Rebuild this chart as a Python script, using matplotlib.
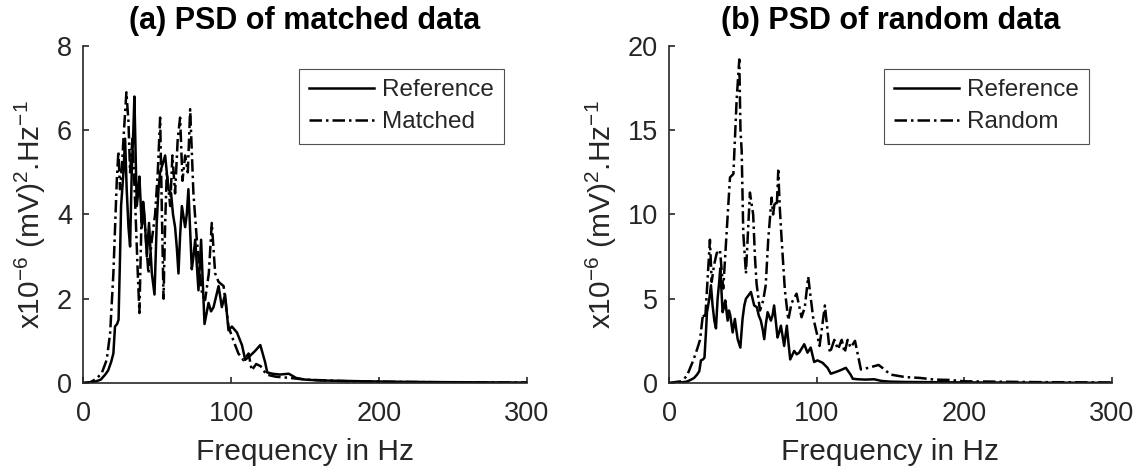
import matplotlib
matplotlib.use("Agg")
import matplotlib.pyplot as plt

# ---- data (frequency in Hz, PSD in 1e-6 (mV)^2/Hz) ----
ref_f = [0, 5, 8, 12, 15, 17, 19, 20.5, 21.6, 23, 24, 25, 25.7, 27.3, 28.4, 29.5,
         30.7, 31.8, 32.9, 34, 34.7, 35.5, 36.3, 37.2, 38.1, 39.7, 40.6, 41.5, 43.1,
         44.6, 45.5, 46.5, 48.3, 49.8, 51, 52.1, 53.8, 55.5, 56.6, 57.7, 59.5, 60.8,
         62.2, 63.4, 64.5, 65.6, 66.8, 69, 70.1, 71.2, 73.5, 74.6, 75.8, 78, 79.8,
         80.9, 82.1, 84.8, 86.5, 88.2, 91.6, 93.8, 96, 98.3, 100.6, 104, 107.4, 109.6,
         113, 116, 119.8, 123, 124.5, 128, 133, 139, 144, 150, 160, 175, 190, 210,
         240, 270, 300]
ref_v = [0, 0.01, 0.03, 0.08, 0.2, 0.3, 0.5, 0.7, 1.34, 1.4, 1.5, 3.0, 4.2, 5.0, 5.8, 4.6,
         3.7, 3.24, 5.0, 6.0, 6.8, 5.5, 4.2, 4.5, 4.9, 3.7, 4.3, 4.0, 3.0,
         3.8, 3.2, 2.6, 2.1, 3.8, 4.6, 5.0, 5.2, 5.4, 5.0, 4.6, 4.5, 4.0,
         3.7, 3.2, 2.6, 3.5, 4.2, 3.7, 4.0, 4.6, 2.7, 3.0, 3.4, 2.2, 3.4,
         2.4, 1.4, 1.9, 1.7, 1.8, 2.3, 1.8, 2.1, 1.25, 1.34, 1.2, 0.9, 0.55,
         0.65, 0.75, 0.9, 0.5, 0.25, 0.22, 0.2, 0.22, 0.12, 0.08, 0.06, 0.05, 0.04, 0.03,
         0.02, 0.015, 0.01]

matched_f = [0, 5, 9, 12.6, 16, 18.3, 20.5, 22.8, 23.9, 25, 26.2, 27.5, 29.3, 30.7,
             31.8, 33.4, 35.2, 37, 38.1, 39.7, 41.9, 44.2, 46.5, 48.7, 50.5, 52.1,
             53.2, 54.4, 55.5, 56.6, 58.9, 60.4, 62.2, 64, 65.6, 67.2, 69, 70.8, 72.4,
             74.6, 76.9, 78.5, 80.5, 82.5, 85, 87, 89.3, 91.6, 95, 98.3, 101.7, 105,
             108.5, 111.9, 114, 117, 120, 124, 130, 140, 150, 165, 180, 200, 230, 260, 300]
matched_v = [0, 0.02, 0.1, 0.23, 0.55, 1.18, 2.6, 4.8, 5.5, 4.6, 5.1, 5.9, 6.9, 6.2,
             5.0, 5.8, 4.3, 2.6, 1.66, 4.2, 3.7, 2.6, 3.4, 4.0, 5.0, 6.3,
             4.2, 2.0, 3.8, 5.0, 4.2, 5.4, 4.5, 5.8, 6.3, 4.8, 5.4, 5.0, 6.5,
             4.5, 3.4, 2.8, 2.1, 1.97, 2.6, 3.8, 2.6, 2.4, 2.3, 1.34, 1.0, 0.7,
             0.54, 0.7, 0.3, 0.45, 0.4, 0.2, 0.15, 0.12, 0.08, 0.06, 0.04, 0.03, 0.02, 0.015, 0.01]

random_f = [0, 8, 12, 16.5, 19, 21, 23, 24.5, 27.7, 28.9, 30.5, 32.3, 34.5, 36.7, 37.9,
            39, 41.3, 43.6, 44.7, 45.8, 47.6, 48.4, 49.2, 50.3, 52.1, 54.8, 57, 58.2,
            59.3, 61.6, 63.8, 65.5, 67.2, 69.5, 70.5, 71.7, 73, 74, 75.1, 76.3, 78.5,
            80.8, 83, 86.4, 89.8, 92, 94.3, 97.6, 100, 102, 105.6, 109, 112, 114.5,
            117, 119, 121, 123, 126, 130, 135, 142, 146, 150, 160, 170, 180, 190, 200,
            220, 250, 300]
random_v = [0, 0.1, 0.4, 1.36, 2.0, 2.56, 4.1, 3.8, 8.5, 6.0, 7.0, 7.7, 7.9, 5.6, 7.3,
            8.9, 12.2, 12.4, 14.6, 16.8, 19.2, 15.0, 13.8, 8.9, 6.5, 11.3, 10.0, 7.5,
            5.9, 4.3, 4.9, 5.8, 8.5, 11.0, 10.0, 10.8, 10.5, 12.6, 10.3, 8.5, 5.5,
            3.74, 4.74, 5.3, 3.9, 4.5, 6.3, 3.9, 3.0, 2.2, 4.6, 1.78, 2.56, 2.0,
            2.56, 1.8, 2.56, 2.1, 2.5, 0.8, 0.9, 1.07, 0.8, 0.5, 0.35, 0.3, 0.2, 0.18, 0.1,
            0.08, 0.05, 0.03]

titles = ["(a) PSD of matched data", "(b) PSD of random data"]
labels_b = ["Reference", "Matched", "Random"]
ylims = [8, 20]
yticks = [[0, 2, 4, 6, 8], [0, 5, 10, 15, 20]]
xticks = [0, 100, 200, 300]

# ---- style ----
plt.rcParams['font.family'] = ['Liberation Sans', 'DejaVu Sans']
plt.rcParams['mathtext.fontset'] = 'custom'
plt.rcParams['mathtext.rm'] = 'Liberation Sans'
plt.rcParams['mathtext.it'] = 'Liberation Sans'
plt.rcParams['mathtext.default'] = 'rm'
gray = '#262626'

fig = plt.figure(figsize=(11.47, 4.72), dpi=100)
ax1 = fig.add_axes([0.0724, 0.1886, 0.387, 0.714])
ax2 = fig.add_axes([0.5833, 0.1886, 0.386, 0.714])
dashdot = (0, (5, 1.6, 1, 1.6))

ax1.plot(ref_f, ref_v, color='black', lw=1.8, label=labels_b[0])
ax1.plot(matched_f, matched_v, color='black', lw=1.8, linestyle=dashdot, label=labels_b[1])
ax2.plot(ref_f, ref_v, color='black', lw=1.8, label=labels_b[0])
ax2.plot(random_f, random_v, color='black', lw=1.8, linestyle=dashdot, label=labels_b[2])

for i, ax in enumerate([ax1, ax2]):
    ax.set_xlim(0, 300)
    ax.set_ylim(0, ylims[i])
    ax.set_xticks(xticks)
    ax.set_yticks(yticks[i])
    ax.spines['top'].set_visible(False)
    ax.spines['right'].set_visible(False)
    for s in ['left', 'bottom']:
        ax.spines[s].set_color(gray)
        ax.spines[s].set_linewidth(1.2)
    ax.tick_params(direction='in', length=4, width=1.2, color=gray, labelcolor=gray,
                   labelsize=19.5)
    ax.tick_params(axis='x', pad=13)
    ax.tick_params(axis='y', pad=8)
    ax.set_title(titles[i], fontsize=22, fontweight='bold', pad=12)
    ax.set_xlabel('Frequency in Hz', fontsize=21.5, color=gray, labelpad=8)
    ax.set_ylabel('x10$^{-6}$ (mV)$^{2}$.Hz$^{-1}$', fontsize=21.5, color=gray, labelpad=6)
    leg = ax.legend(loc='upper right', bbox_to_anchor=(0.948, 0.932), fontsize=17.5,
                    frameon=True, fancybox=False, handlelength=2.7, handletextpad=0.3,
                    labelspacing=0.42, borderpad=0.42, borderaxespad=0)
    leg.get_frame().set_edgecolor(gray)
    leg.get_frame().set_linewidth(0.8)
    for t in leg.get_texts():
        t.set_color(gray)

fig.savefig('out.png', dpi=100)
